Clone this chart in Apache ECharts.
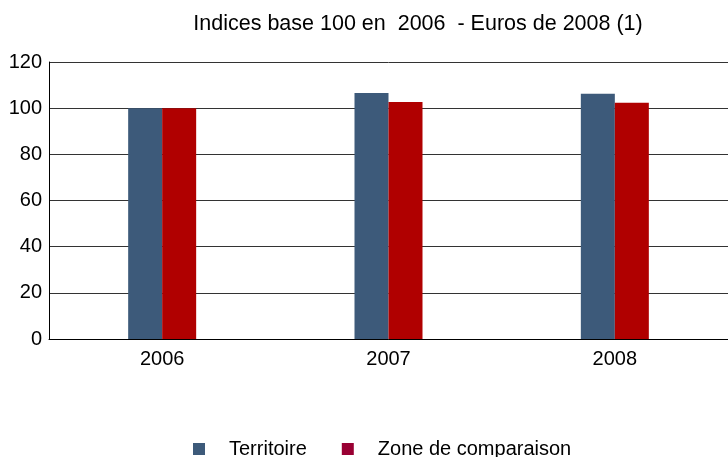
<!DOCTYPE html>
<html><head><meta charset="utf-8">
<script src="https://cdn.jsdelivr.net/npm/echarts@6/dist/echarts.min.js"></script>
<style>html,body{margin:0;padding:0;background:#fff}#c{width:728px;height:457px}</style>
</head><body><div id="c"></div>
<script>
const categories = ['2006', '2007', '2008'];
const territoire = [100, 106.6, 106.2];
const zoneComparaison = [100, 102.7, 102.3];
const yTicks = [0, 20, 40, 60, 80, 100, 120];

const FF = 'Liberation Sans, Arial, sans-serif';
const chart = echarts.init(document.getElementById('c'));
chart.setOption({
  animation: false,
  textStyle: { fontFamily: FF },
  title: {
    text: 'Indices base 100 en  2006  - Euros de 2008 (1)',
    left: 413, top: 8, textAlign: 'center',
    textStyle: { fontSize: 21.5, fontWeight: 'normal', color: '#000', fontFamily: FF }
  },
  legend: {
    top: 434, left: 188, itemWidth: 12, itemHeight: 12, itemGap: 35,
    textStyle: { fontSize: 20, color: '#000', padding: [0, 0, 0, 19], fontFamily: FF },
    data: [
      { name: 'Territoire', icon: 'rect', itemStyle: { color: '#3d5a7a' } },
      { name: 'Zone de comparaison', icon: 'rect', itemStyle: { color: '#990033' } }
    ]
  },
  grid: { left: 49, right: 0, top: 62, bottom: 118 },
  xAxis: {
    type: 'category', data: categories,
    axisLine: { lineStyle: { color: '#000', width: 1 } },
    axisTick: { show: false },
    axisLabel: { fontSize: 20, color: '#000', margin: 10, fontFamily: FF }
  },
  yAxis: {
    type: 'value', min: yTicks[0], max: yTicks[yTicks.length - 1], interval: 20,
    axisLine: { show: true, lineStyle: { color: '#000', width: 1 } },
    axisTick: { show: false },
    axisLabel: { fontSize: 20, color: '#000', margin: 7, fontFamily: FF },
    splitLine: { lineStyle: { color: '#333', width: 1 } }
  },
  series: [
    { name: 'Territoire', type: 'bar', data: territoire, barWidth: 34, barGap: '0%',
      itemStyle: { color: '#3d5a7a' } },
    { name: 'Zone de comparaison', type: 'bar', data: zoneComparaison, barWidth: 34,
      itemStyle: { color: '#b00000' } }
  ]
});
</script></body></html>
